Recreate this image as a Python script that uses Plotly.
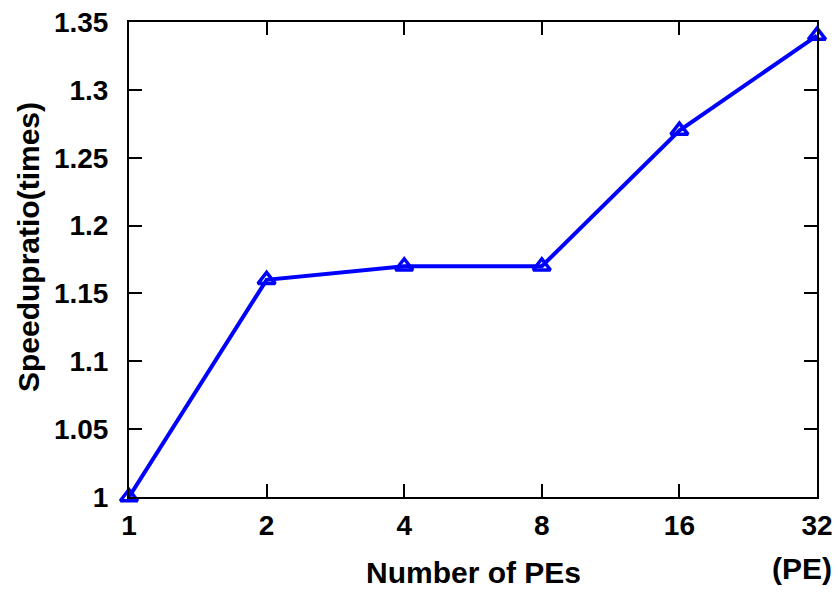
import plotly.graph_objects as go

pe_labels = ["1", "2", "4", "8", "16", "32"]
speedup = [1.0, 1.16, 1.17, 1.17, 1.27, 1.34]
y_ticks = [1.0, 1.05, 1.1, 1.15, 1.2, 1.25, 1.3, 1.35]
y_tick_text = ["1", "1.05", "1.1", "1.15", "1.2", "1.25", "1.3", "1.35"]

xpos = list(range(len(pe_labels)))
FONT = "Liberation Sans, Arial, sans-serif"

W, H = 838, 592
L, R, T, B = 129, 21, 22, 95
PW, PH = W - L - R, H - T - B


def px_to_paper(xp, yp):
    return (xp - L) / PW, (H - B - yp) / PH


fig = go.Figure()
fig.add_trace(go.Scatter(
    x=xpos, y=speedup, mode="lines+markers",
    line=dict(color="#0000ff", width=4),
    marker=dict(symbol="triangle-up-open", size=15, color="#0000ff",
                line=dict(color="#0000ff", width=3.5)),
    cliponaxis=False, showlegend=False,
))

axis_common = dict(
    showline=True, linecolor="black", linewidth=2, mirror="ticks",
    ticks="inside", ticklen=13, tickwidth=1.5, tickcolor="black",
    showgrid=False, zeroline=False,
    tickfont=dict(family=FONT, size=28, color="black", weight="bold"),
)

fig.update_xaxes(range=[0, len(pe_labels) - 1], tickvals=xpos, ticktext=pe_labels,
                 ticklabelstandoff=2, **axis_common)
fig.update_yaxes(range=[1.0, 1.35], tickvals=y_ticks, ticktext=y_tick_text,
                 ticklabelstandoff=13, **axis_common)

ann_font = dict(family=FONT, size=30, color="black")
x1, y1 = px_to_paper(473, 572)
fig.add_annotation(text="<b>Number of PEs</b>", xref="paper", yref="paper", x=0.5, y=y1,
                   xanchor="center", yanchor="middle", showarrow=False, font=ann_font)
x2, y2 = px_to_paper(834, 568)
fig.add_annotation(text="<b>(PE)</b>", xref="paper", yref="paper", x=x2, y=y2,
                   xanchor="right", yanchor="middle", showarrow=False, font=ann_font)
x3, y3 = px_to_paper(28, 247)
fig.add_annotation(text="<b>Speedupratio(times)</b>", xref="paper", yref="paper", x=x3, y=y3,
                   xanchor="center", yanchor="middle", textangle=-90,
                   showarrow=False, font=ann_font)

fig.update_layout(
    width=W, height=H,
    margin=dict(l=L, r=R, t=T, b=B, autoexpand=False),
    paper_bgcolor="white", plot_bgcolor="white",
)

fig.write_html("out.html")
